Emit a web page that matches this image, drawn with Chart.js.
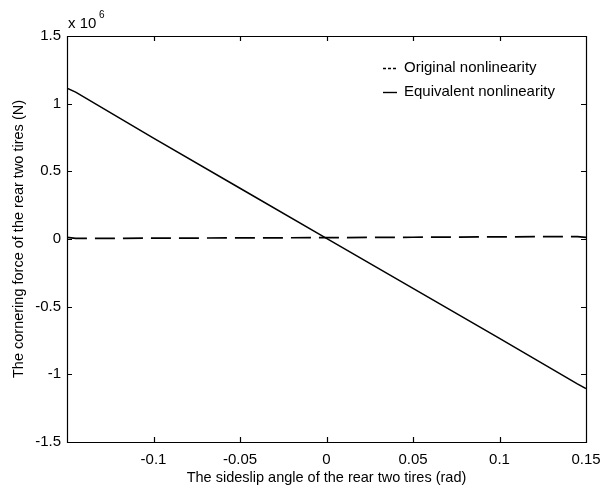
<!DOCTYPE html>
<html lang="en">

<head>
    <meta charset="UTF-8">
    <title>Cornering force vs sideslip angle</title>
    <script src="https://cdn.jsdelivr.net/npm/chart.js"></script>
    <style>
        html, body { margin: 0; padding: 0; background: #fff; }
        #wrap { width: 601px; height: 488px; position: relative; }
    </style>
</head>

<body>
    <div id="wrap">
        <canvas id="forceChart" width="601" height="488"></canvas>
    </div>

    <script>
        // Sideslip angle of the rear tires (rad)
        const angles = [-0.15, -0.145, -0.1, -0.05, 0, 0.05, 0.1, 0.145, 0.15];
        // Cornering force, in units of 10^6 N
        const originalForce = [0.012, 0.004, 0.006, 0.008, 0.010, 0.013, 0.016, 0.018, 0.012];
        const equivalentForce = [1.115, 1.085, 0.745, 0.375, 0.005, -0.365, -0.735, -1.070, -1.105];

        // Axis ticks
        const xTickValues = [-0.15, -0.1, -0.05, 0, 0.05, 0.1, 0.15];
        const xTickLabels = ['', '-0.1', '-0.05', '0', '0.05', '0.1', '0.15'];
        const yTickValues = [-1.5, -1, -0.5, 0, 0.5, 1, 1.5];
        const yTickLabels = ['-1.5', '-1', '-0.5', '0', '0.5', '1', '1.5'];

        const FONT = "'Liberation Sans', Arial, sans-serif";

        // Inward tick marks on all four sides plus the closing frame
        const frameTicks = {
            id: 'frameTicks',
            afterDraw(chart) {
                const { ctx, chartArea: a, scales: { x, y } } = chart;
                const len = 5;
                ctx.save();
                ctx.strokeStyle = '#000';
                ctx.lineWidth = 1.2;
                ctx.beginPath();
                ctx.rect(a.left + 0.5, a.top + 0.5, a.right - a.left, a.bottom - a.top);
                x.ticks.forEach(t => {
                    const px = Math.round(x.getPixelForValue(t.value)) + 0.5;
                    ctx.moveTo(px, a.bottom); ctx.lineTo(px, a.bottom - len);
                    ctx.moveTo(px, a.top); ctx.lineTo(px, a.top + len);
                });
                y.ticks.forEach(t => {
                    const py = Math.round(y.getPixelForValue(t.value)) + 0.5;
                    ctx.moveTo(a.left, py); ctx.lineTo(a.left + len, py);
                    ctx.moveTo(a.right, py); ctx.lineTo(a.right - len, py);
                });
                ctx.stroke();

                // exponent label above the y axis
                ctx.fillStyle = '#000';
                ctx.textBaseline = 'alphabetic';
                ctx.font = '15px ' + FONT;
                ctx.fillText('x 10', a.left + 1, a.top - 8);
                ctx.font = '10px ' + FONT;
                ctx.fillText('6', a.left + 32, a.top - 18);
                ctx.restore();
            }
        };

        // Plain text legend in the upper right of the plot
        const textLegend = {
            id: 'textLegend',
            afterDraw(chart) {
                const { ctx, chartArea: a } = chart;
                const x0 = a.left + 316;
                const rows = [a.top + 32, a.top + 56];
                ctx.save();
                ctx.strokeStyle = '#000';
                ctx.fillStyle = '#000';
                ctx.lineWidth = 1.4;
                ctx.font = '15px ' + FONT;
                ctx.textBaseline = 'middle';
                chart.data.datasets.forEach((ds, i) => {
                    const yy = rows[i];
                    ctx.setLineDash(i === 0 ? [3, 2] : []);
                    ctx.beginPath();
                    ctx.moveTo(x0, yy + 0.5);
                    ctx.lineTo(x0 + 14, yy + 0.5);
                    ctx.stroke();
                    ctx.fillText(ds.label, x0 + 21, yy);
                });
                ctx.restore();
            }
        };

        new Chart(document.getElementById('forceChart'), {
            type: 'line',
            data: {
                labels: angles,
                datasets: [{
                    label: 'Original nonlinearity',
                    data: angles.map((a, i) => ({ x: a, y: originalForce[i] })),
                    borderColor: '#000',
                    borderWidth: 1.7,
                    borderDash: [20, 8],
                    pointRadius: 0,
                    tension: 0
                }, {
                    label: 'Equivalent nonlinearity',
                    data: angles.map((a, i) => ({ x: a, y: equivalentForce[i] })),
                    borderColor: '#000',
                    borderWidth: 1.5,
                    pointRadius: 0,
                    tension: 0
                }]
            },
            options: {
                responsive: false,
                animation: false,
                layout: { padding: { top: 36, right: 15, left: 10, bottom: 0 } },
                plugins: {
                    legend: { display: false },
                    tooltip: { enabled: false }
                },
                scales: {
                    x: {
                        type: 'linear',
                        min: -0.15,
                        max: 0.15,
                        afterBuildTicks: s => { s.ticks = xTickValues.map(v => ({ value: v })); },
                        afterFit: s => { s.height = 46; s.paddingLeft = 0; s.paddingRight = 0; },
                        ticks: {
                            color: '#000',
                            font: { family: FONT, size: 15 },
                            padding: 9,
                            maxRotation: 0,
                            autoSkip: false,
                            callback: (v, i) => xTickLabels[i]
                        },
                        grid: { display: false, drawTicks: false },
                        border: { display: true, color: '#000' },
                        title: {
                            display: true,
                            text: 'The sideslip angle of the rear two tires (rad)',
                            color: '#000',
                            font: { family: FONT, size: 14.5 },
                            padding: { top: 0, bottom: 1 }
                        }
                    },
                    y: {
                        type: 'linear',
                        min: -1.5,
                        max: 1.5,
                        afterBuildTicks: s => { s.ticks = yTickValues.map(v => ({ value: v })); },
                        afterFit: s => { s.width = 57; },
                        ticks: {
                            color: '#000',
                            font: { family: FONT, size: 15 },
                            padding: 6,
                            autoSkip: false,
                            callback: (v, i) => yTickLabels[i]
                        },
                        grid: { display: false, drawTicks: false },
                        border: { display: true, color: '#000' },
                        title: {
                            display: true,
                            text: 'The cornering force of the rear two tires (N)',
                            color: '#000',
                            font: { family: FONT, size: 14.5 },
                            padding: { top: 0, bottom: 0 }
                        }
                    }
                }
            },
            plugins: [frameTicks, textLegend]
        });
    </script>
</body>

</html>
